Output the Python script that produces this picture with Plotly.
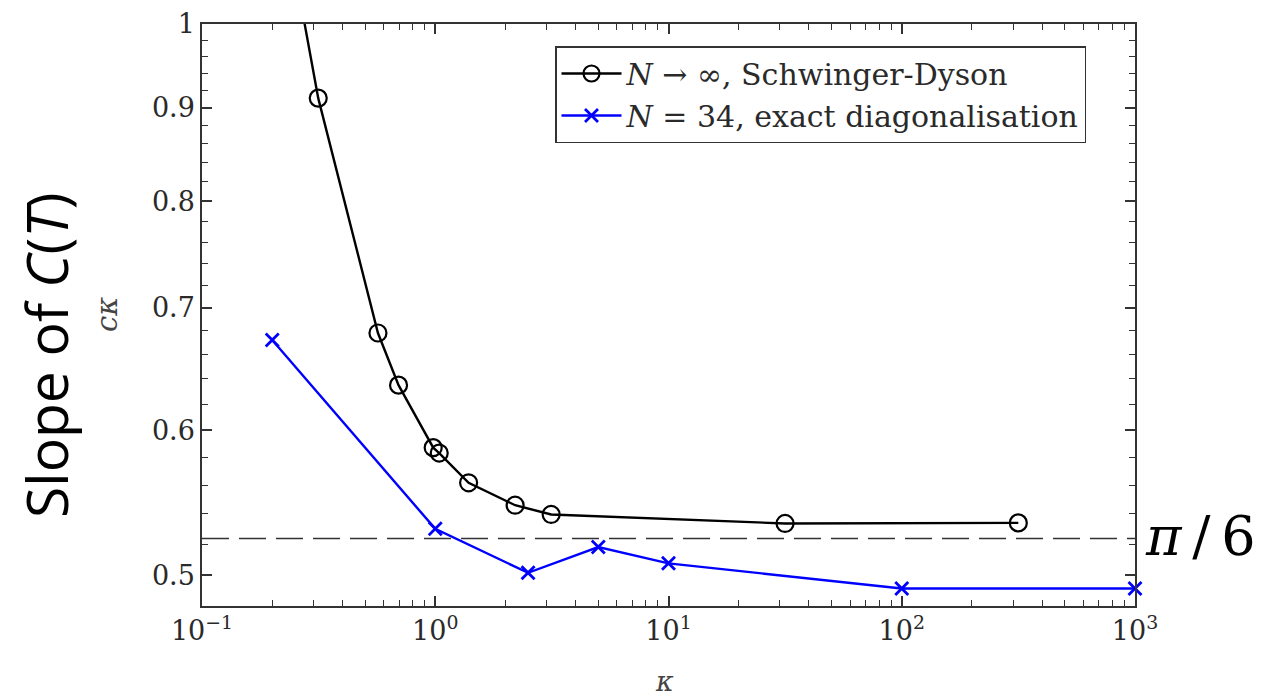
import math
import plotly.graph_objects as go

# Schwinger-Dyson (N -> infinity) results
kappa_sd = [0.25, 0.315, 0.568, 0.696, 0.98, 1.04, 1.39, 2.2, 3.14, 31.6, 316]
ck_sd = [1.07, 0.911, 0.678, 0.635, 0.587, 0.583, 0.5616, 0.546, 0.5397, 0.5336, 0.534]

# Exact diagonalisation, N = 34
kappa_ed = [0.2, 1.0, 2.5, 5.0, 10, 100, 1000]
ck_ed = [0.672, 0.530, 0.5015, 0.518, 0.5075, 0.4917, 0.4917]

# Reference level pi/6
pi_over_6 = math.pi / 6

# Axis ticks
x_major = [0.1, 1, 10, 100, 1000]
x_major_text = ["10<sup>−1</sup>", "10<sup>0</sup>", "10<sup>1</sup>", "10<sup>2</sup>", "10<sup>3</sup>"]
x_minor = [m * 10 ** k for k in range(-1, 3) for m in range(2, 10)]
y_major = [0.5, 0.6, 0.7, 0.8, 0.9, 1.0]
y_major_text = ["0.5", "0.6", "0.7", "0.8", "0.9", "1"]
y_minor = [round(0.50 + 0.02 * i, 2) for i in range(26) if round(0.50 + 0.02 * i, 2) not in y_major]

SERIF = "DejaVu Serif"
AXIS_COLOR = "#333333"
TEXT_COLOR = "#2a2a2a"

fig = go.Figure()

fig.add_trace(go.Scatter(
    x=kappa_sd, y=ck_sd, mode="lines+markers",
    name="<i>N</i> → ∞, Schwinger-Dyson",
    line=dict(color="black", width=2.4),
    marker=dict(symbol="circle-open", size=17, color="black", line=dict(width=2.2, color="black")),
    cliponaxis=True,
))

fig.add_trace(go.Scatter(
    x=kappa_ed, y=ck_ed, mode="lines+markers",
    name="<i>N</i> = 34, exact diagonalisation",
    line=dict(color="#0000ff", width=2.4),
    marker=dict(symbol="x-thin-open", size=13, color="#0000ff", line=dict(width=2.8, color="#0000ff")),
    cliponaxis=False,
))

# dashed horizontal line at pi/6
fig.add_shape(type="line", xref="paper", x0=0, x1=1, yref="y", y0=pi_over_6, y1=pi_over_6,
              line=dict(color=AXIS_COLOR, width=1.6, dash="27px,10px"), layer="below")

axis_common = dict(
    showgrid=False, zeroline=False, showline=True, linecolor=AXIS_COLOR, linewidth=1.5,
    mirror="allticks", ticks="inside", ticklen=10, tickwidth=1.5, tickcolor=AXIS_COLOR,
    tickfont=dict(family=SERIF, size=27, color=TEXT_COLOR),
)

fig.update_xaxes(
    type="log", range=[-1, 3],
    tickmode="array", tickvals=x_major, ticktext=x_major_text,
    minor=dict(tickmode="array", tickvals=x_minor, ticks="inside", ticklen=6, tickwidth=1.2, tickcolor=AXIS_COLOR),
    **axis_common,
)
fig.update_yaxes(
    type="log", range=[math.log10(0.481), 0],
    tickmode="array", tickvals=y_major, ticktext=y_major_text,
    minor=dict(tickmode="array", tickvals=y_minor, ticks="inside", ticklen=6, tickwidth=1.2, tickcolor=AXIS_COLOR),
    **axis_common,
)

L, R, T, B = 202, 144, 24, 94
W, H = 1279, 700
pw, ph = W - L - R, H - T - B


def px(x):
    return (x - L) / pw


def py(y):
    return (H - B - y) / ph


def label(text, x, y, size, family=SERIF, color="black", angle=0):
    fig.add_annotation(text=text, x=px(x), y=py(y), xref="paper", yref="paper",
                       xanchor="center", yanchor="middle", showarrow=False, textangle=angle,
                       font=dict(family=family, size=size, color=color))


label("<i>cκ</i>", 107, 315, 29, color="#444444", angle=-90)
label("<i>κ</i>", 664, 681, 27, color="#444444")
label("Slope of <i>C</i>(<i>T</i>)", 46, 355, 57, family="Open Sans", angle=-90)
label("<i>π</i>\u2009/\u20096", 1200, 536, 54)

fig.update_layout(
    width=W, height=H,
    margin=dict(l=L, r=R, t=T, b=B, autoexpand=False),
    paper_bgcolor="white", plot_bgcolor="white",
    showlegend=True,
    legend=dict(
        x=px(555), y=py(46), xanchor="left", yanchor="top",
        bgcolor="white", bordercolor="#333333", borderwidth=1.5,
        font=dict(family=SERIF, size=30, color=TEXT_COLOR),
        itemwidth=60, tracegroupgap=0,
    ),
)

fig.write_html("out.html")
